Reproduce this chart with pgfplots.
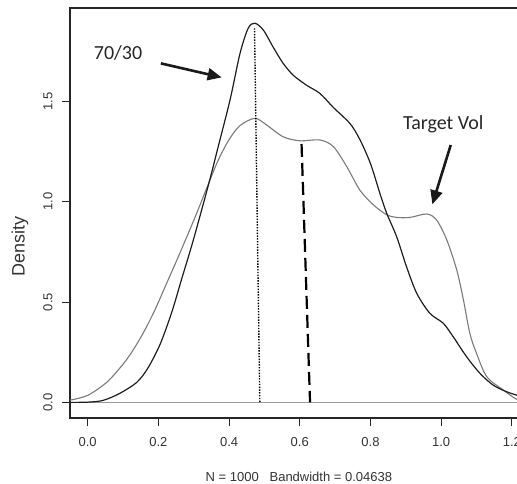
\documentclass[border=0pt]{standalone}
\usepackage{fontspec}
\setmainfont{Liberation Sans}
\newfontfamily\calib{Carlito}
\usepackage{pgfplots}
\pgfplotsset{compat=1.18}
\usetikzlibrary{arrows.meta}
\definecolor{curveA}{HTML}{1E1E1E}
\definecolor{curveB}{HTML}{7A7A7A}
\definecolor{zeroline}{HTML}{9A9A9A}

% density of the 70/30 portfolio (black)
\pgfplotstableread{
x y
-0.05 0.000
0.000 0.001
0.044 0.010
0.091 0.045
0.139 0.100
0.170 0.170
0.205 0.290
0.238 0.450
0.265 0.610
0.299 0.810
0.344 1.100
0.370 1.280
0.403 1.510
0.431 1.740
0.454 1.865
0.473 1.890
0.497 1.856
0.525 1.770
0.553 1.690
0.582 1.630
0.620 1.580
0.657 1.540
0.695 1.470
0.742 1.390
0.770 1.310
0.800 1.190
0.827 1.040
0.846 0.942
0.874 0.826
0.902 0.676
0.931 0.543
0.968 0.444
1.006 0.394
1.034 0.327
1.072 0.227
1.110 0.144
1.147 0.086
1.185 0.053
1.214 0.036
1.245 0.025
}\mixdens

% density of the target-vol portfolio (grey)
\pgfplotstableread{
x y
-0.05 0.011
0.000 0.035
0.054 0.100
0.100 0.190
0.129 0.262
0.160 0.355
0.190 0.460
0.220 0.580
0.250 0.700
0.278 0.815
0.310 0.950
0.344 1.100
0.370 1.210
0.400 1.310
0.431 1.380
0.473 1.416
0.506 1.383
0.553 1.324
0.600 1.304
0.657 1.308
0.695 1.275
0.733 1.175
0.770 1.058
0.808 0.985
0.846 0.935
0.874 0.922
0.912 0.922
0.959 0.939
0.987 0.909
1.016 0.809
1.044 0.660
1.063 0.510
1.081 0.344
1.100 0.244
1.129 0.128
1.176 0.061
1.214 0.015
1.245 0.006
}\tvdens

\begin{document}
\begin{tikzpicture}
\begin{axis}[
    name=ax,
    scale only axis,
    width=457.8pt,
    height=410pt,
    xmin=-0.05, xmax=1.245,
    ymin=-0.078, ymax=1.966,
    xtick={0,0.2,0.4,0.6,0.8,1.0,1.2},
    ytick={0,0.5,1,1.5},
    xtick pos=bottom,
    ytick pos=left,
    tick align=outside,
    major tick length=8pt,
    axis line style={line width=1.3pt, black!85},
    tick style={line width=1pt, black!85},
    xticklabel style={/pgf/number format/fixed, /pgf/number format/fixed zerofill,
        /pgf/number format/precision=1, font=\fontsize{13}{15}\selectfont, text=black!80,
        yshift=-8pt},
    yticklabel style={/pgf/number format/fixed, /pgf/number format/fixed zerofill,
        /pgf/number format/precision=1, font=\fontsize{13}{15}\selectfont, text=black!80,
        xshift=-6pt, rotate=90, anchor=south},
    /pgf/number format/assume math mode=true,
    xlabel={N = 1000\ \ \ Bandwidth = 0.04638},
    xlabel style={at={(axis description cs:0.5,0)}, anchor=base, yshift=-63pt,
        font=\fontsize{13}{15}\selectfont, text=black!80},
    ylabel={Density},
    ylabel style={at={(axis description cs:-0.1092,0.419)}, anchor=center,
        font=\fontsize{18}{20}\selectfont, text=black!80},
    clip=true,
]
\addplot[zeroline, line width=1.1pt] coordinates {(-0.05,0) (1.245,0)};
\addplot[curveB, line width=1.1pt, smooth] table {\tvdens};
\addplot[curveA, line width=1.2pt, smooth] table {\mixdens};
\addplot[black, line width=1.4pt, dash pattern=on 1.4pt off 1.4pt] coordinates {(0.472,1.865) (0.487,0)};
\addplot[black, line width=2.2pt, dash pattern=on 13pt off 6pt] coordinates {(0.605,1.288) (0.629,0)};

\node[font=\calib\fontsize{20}{22}\selectfont, text=black!85] at (axis cs:0.086,1.741) {70/30};
\draw[line width=2.6pt, black!90, -{Triangle[length=14pt,width=12pt]}] (axis cs:0.207,1.690) -- (axis cs:0.379,1.620);
\node[font=\calib\fontsize{20}{22}\selectfont, text=black!85] at (axis cs:1.006,1.387) {Target Vol};
\draw[line width=2.6pt, black!90, -{Triangle[length=14pt,width=12pt]}] (axis cs:1.027,1.283) -- (axis cs:0.975,0.987);
\end{axis}
\pgfresetboundingbox
\path[use as bounding box] ([xshift=-70pt,yshift=-65pt]ax.south west) rectangle ([xshift=447pt,yshift=8pt]ax.north west);
\end{tikzpicture}
\end{document}
